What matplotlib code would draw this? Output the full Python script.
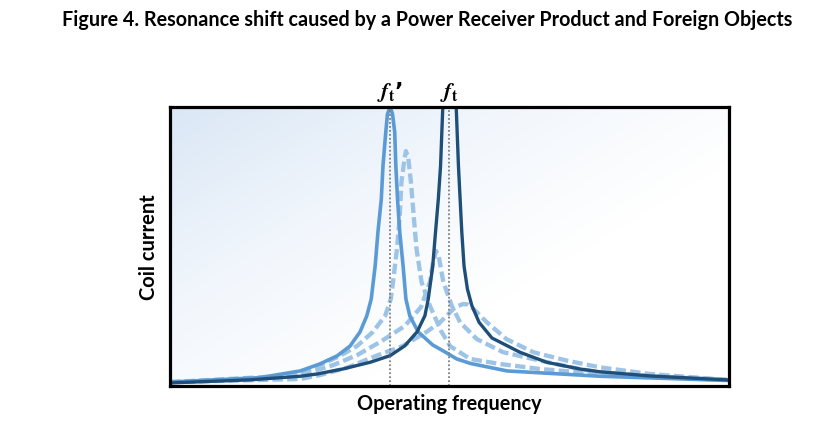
import numpy as np
import matplotlib.pyplot as plt
from matplotlib.colors import LinearSegmentedColormap

# readings from the reference: x = operating frequency (0-100), y = coil current (0-100)
fa_x = [0.0, 8.9, 16.1, 23.3, 26.8, 29.9, 32.2, 34.0, 35.2, 36.0, 36.7, 37.2, 37.8, 38.1,
        38.6, 38.9, 39.4, 39.8, 40.2, 40.4, 40.7, 41.1, 41.7, 42.2, 42.9, 44.4, 47.0, 49.2,
        51.3, 53.7, 60.3, 76.9, 85.9, 94.8, 99.6]
fa_y = [1.4, 2.3, 3.0, 5.4, 7.9, 10.8, 14.3, 19.4, 25.1, 31.2, 43.0, 55.2, 67.0, 78.9,
        91.0, 97.5, 100.0, 97.5, 91.0, 78.9, 67.0, 55.2, 43.0, 31.2, 25.1, 19.4, 14.7, 12.2,
        9.7, 8.1, 5.4, 3.5, 2.9, 2.3, 2.0]

ft_x = [0.0, 14.3, 23.3, 26.3, 30.9, 35.8, 39.4, 42.0, 44.2, 45.6, 46.2, 47.0, 47.5, 48.0,
        48.4, 48.8, 49.4, 50.0, 50.6, 51.2, 51.6, 51.9, 52.2, 52.6, 53.2, 54.0, 55.3, 57.6,
        62.6, 67.4, 73.3, 76.9, 85.9, 99.6]
ft_y = [1.1, 2.2, 3.5, 4.3, 6.1, 8.5, 10.9, 14.4, 19.4, 25.2, 31.2, 43.0, 55.2, 67.0,
        78.9, 100.0, 124.4, 138.7, 124.4, 100.0, 78.9, 67.0, 55.2, 43.0, 34.8, 28.8, 22.8, 17.2,
        12.1, 8.5, 6.1, 5.1, 3.6, 2.2]

fo1_x = [0.0, 16.1, 23.3, 26.8, 30.4, 33.5, 36.3, 38.5, 39.5, 39.9, 40.6, 41.1, 41.4, 41.9,
         42.2, 42.6, 43.1, 43.6, 44.1, 45.0, 46.5, 48.5, 50.1, 53.7, 59.0, 66.2, 76.9, 99.6]
fo1_y = [1.4, 2.5, 4.7, 7.5, 10.8, 14.4, 19.4, 25.2, 31.2, 37.3, 49.1, 60.9, 73.1, 80.6,
         84.2, 82.1, 73.1, 60.9, 49.1, 37.3, 28.7, 19.7, 14.3, 9.7, 7.9, 6.1, 4.3, 2.2]

fo2_x = [0.0, 23.3, 29.2, 33.5, 37.6, 42.0, 44.9, 46.5, 47.0, 47.6, 48.1, 48.9, 50.4, 51.9,
         54.9, 59.6, 66.2, 73.3, 76.9, 85.9, 99.6]
fo2_y = [1.4, 3.9, 7.5, 11.1, 15.8, 21.5, 28.3, 37.3, 43.7, 48.4, 46.2, 37.3, 28.8, 22.8,
         16.8, 12.1, 9.1, 6.1, 4.9, 3.6, 2.2]

fo3_x = [0.0, 23.3, 26.8, 31.6, 37.0, 41.7, 45.9, 48.3, 49.5, 50.7, 51.5, 52.5, 53.3, 54.3,
         56.7, 60.2, 65.0, 71.0, 76.9, 85.9, 99.6]
fo3_y = [1.4, 2.5, 3.9, 6.5, 10.9, 14.4, 19.4, 22.8, 25.2, 27.6, 28.7, 29.4, 29.2, 27.6,
         22.8, 16.8, 12.1, 9.1, 6.7, 4.3, 2.2]

f_markers = [39.4, 49.9]
f_labels = [r"$\mathbfit{f}_{\mathbf{t}}$’", r"$\mathbfit{f}_{\mathbf{t}}$"]

plt.rcParams['mathtext.fontset'] = 'stix'

fig = plt.figure(figsize=(8.21, 4.35), dpi=100)
ax = fig.add_axes([170 / 821, 48 / 435, 559 / 821, 279 / 435])

# soft diagonal background
gx, gy = np.meshgrid(np.linspace(0, 1, 300), np.linspace(1, 0, 150))
t = np.clip((gx * 1.2 + (1 - gy)) / 1.4, 0, 1)
cmap = LinearSegmentedColormap.from_list('bg', ['#dae7f5', '#f1f6fc', '#ffffff'])
ax.imshow(t, cmap=cmap, extent=[0, 100, 0, 100], aspect='auto', zorder=0, origin='upper')

dash = dict(color='#9dc3e6', lw=3.1, ls=(0, (2.4, 1.0)), solid_capstyle='butt',
            solid_joinstyle='round')
ax.plot(fo1_x, fo1_y, **dash, zorder=2)
ax.plot(fo2_x, fo2_y, **dash, zorder=2)
ax.plot(fo3_x, fo3_y, **dash, zorder=2)
ax.plot(fa_x, fa_y, color='#5b9bd5', lw=2.6, zorder=3, solid_joinstyle='round')
ax.plot(ft_x, ft_y, color='#1f4e79', lw=2.4, zorder=3, solid_joinstyle='round')

for xm, lab in zip(f_markers, f_labels):
    ax.plot([xm, xm], [0, 100], color='#7f7f7f', lw=1.3, ls=(0, (1, 1.2)), zorder=4)
    ax.text(xm, 101.5, lab, ha='center', va='bottom', fontsize=16, color='black',
            fontweight='bold')

ax.set_xlim(0, 100)
ax.set_ylim(0, 100)
ax.set_xticks([])
ax.set_yticks([])
for s in ax.spines.values():
    s.set_linewidth(2.3)
    s.set_color('black')
    s.set_zorder(5)

ax.set_xlabel('Operating frequency', fontsize=14.3, fontweight='bold', family='Lato', labelpad=5)
ax.set_ylabel('Coil current', fontsize=14.5, fontweight='bold', family='Lato', labelpad=8)

fig.text(0.52, 0.953, 'Figure 4. Resonance shift caused by a Power Receiver Product and Foreign Objects',
         ha='center', va='center', fontsize=14.2, fontweight='bold', family='Lato')

fig.savefig('out.png', dpi=100)
